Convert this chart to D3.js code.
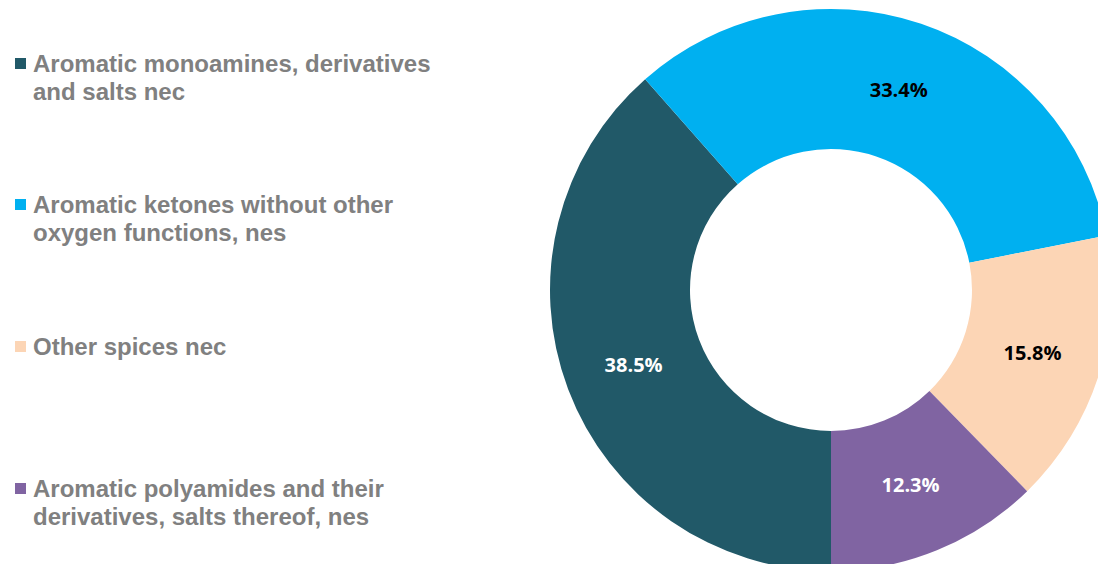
<!DOCTYPE html>
<html>
<head>
<meta charset="utf-8">
<script src="https://cdn.jsdelivr.net/npm/d3@7"></script>
<style>
  body { margin: 0; background: #fff; }
  svg { display: block; }
</style>
</head>
<body>
<svg width="1098" height="564"></svg>
<script>
// data
var categories = [
	["Aromatic monoamines, derivatives", "and salts nec"],
	["Aromatic ketones without other", "oxygen functions, nes"],
	["Other spices nec"],
	["Aromatic polyamides and their", "derivatives, salts thereof, nes"]
]
var shares = [38.5, 33.4, 15.8, 12.3]
var colors = ["#215968", "#00B0F0", "#FCD5B5", "#8064A2"]
var labelColors = ["#fff", "#000", "#000", "#fff"]

var svg = d3.select("svg"),
	width = +svg.attr("width"),
	height = +svg.attr("height")

var cx = 831, cy = 290, outerR = 281, innerR = 141

var pie = d3.pie()
	.sort(null)
	.startAngle(Math.PI)
	.endAngle(3 * Math.PI)
	.value(function (d) { return d })

var arc = d3.arc().innerRadius(innerR).outerRadius(outerR)

var g = svg.append("g").attr("transform", "translate(" + cx + "," + cy + ")")

var arcs = pie(shares)

g.selectAll("path")
	.data(arcs)
	.enter()
	.append("path")
	.attr("d", arc)
	.attr("fill", function (d, i) { return colors[i] })

g.selectAll("text")
	.data(arcs)
	.enter()
	.append("text")
	.attr("transform", function (d) { return "translate(" + arc.centroid(d) + ")" })
	.attr("text-anchor", "middle")
	.attr("dy", "0.35em")
	.attr("font-family", "'Open Sans', sans-serif")
	.attr("font-weight", "bold")
	.attr("font-size", 20)
	.attr("fill", function (d, i) { return labelColors[i] })
	.text(function (d) { return d.data.toFixed(1) + "%" })

// legend
var legendY = [72, 213, 355, 497]
var legend = svg.append("g").attr("name", "legend")
var items = legend.selectAll("g")
	.data(categories)
	.enter()
	.append("g")
	.attr("transform", function (d, i) { return "translate(0," + legendY[i] + ")" })

items.append("rect")
	.attr("x", 15)
	.attr("y", -14)
	.attr("width", 11)
	.attr("height", 11)
	.attr("fill", function (d, i) { return colors[i] })

items.append("text")
	.attr("font-family", "'Liberation Sans', Arial, sans-serif")
	.attr("font-weight", "bold")
	.attr("font-size", 24)
	.attr("fill", "#808080")
	.selectAll("tspan")
	.data(function (d) { return d })
	.enter()
	.append("tspan")
	.attr("x", 33)
	.attr("y", function (d, j) { return j * 28 })
	.text(function (d) { return d })
</script>
</body>
</html>
